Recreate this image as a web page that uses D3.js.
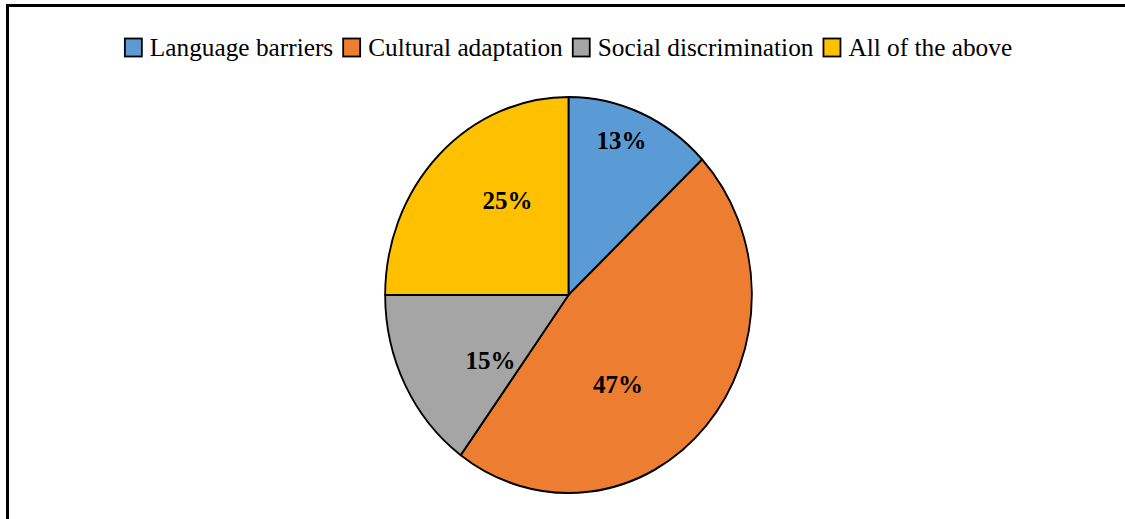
<!DOCTYPE html>
<html>
<head>
<meta charset="utf-8">
<title>Challenges pie</title>
<script src="https://d3js.org/d3.v7.min.js"></script>
<style>
  body { margin: 0; background: #fff; }
  svg { display: block; }
  .legend text { font-family: "Times New Roman", Times, "Liberation Serif", serif; font-size: 25.3px; fill: #000; }
  .lbl { font-family: "Times New Roman", Times, "Liberation Serif", serif; font-size: 25px; font-weight: bold; fill: #000; }
</style>
</head>
<body>
<svg id="chart" width="1125" height="519"></svg>
<script>
// data
var categories = ["Language barriers", "Cultural adaptation", "Social discrimination", "All of the above"];
var values = [13, 47, 15, 25];
var colors = ["#5B9BD5", "#ED7D31", "#A5A5A5", "#FFC000"];

// label placement inside slices (fraction of radius, angle shift in degrees)
var labelPos = [[0.83, -3], [0.53, 18], [0.54, -11], [0.58, 10]];

var svg = d3.select("#chart");

// frame (only top and left edges show in the crop)
svg.append("path")
    .attr("d", "M7.5,525 L7.5,5.5 L1130,5.5")
    .attr("fill", "none")
    .attr("stroke", "#000")
    .attr("stroke-width", 3);

var cx = 568.5, cy = 295, r = 198, sx = 0.926;

var pie = d3.pie().sort(null).value(function(d){ return d; });
var arcs = pie(values);
var arc = d3.arc().innerRadius(0).outerRadius(r);

var g = svg.append("g")
    .attr("transform", "translate(" + cx + "," + cy + ") scale(" + sx + ",1)");

g.selectAll("path.slice")
    .data(arcs)
    .enter()
    .append("path")
      .attr("class", "slice")
      .attr("d", arc)
      .attr("fill", function(d, i){ return colors[i]; })
      .attr("stroke", "#000")
      .attr("stroke-width", 2)
      .attr("stroke-linejoin", "round");

// percent labels
svg.selectAll("text.lbl")
    .data(arcs)
    .enter()
    .append("text")
      .attr("class", "lbl")
      .attr("text-anchor", "middle")
      .attr("x", function(d, i){
          var a = (d.startAngle + d.endAngle) / 2 + labelPos[i][1] * Math.PI / 180;
          return cx + Math.sin(a) * r * labelPos[i][0] * sx;
      })
      .attr("y", function(d, i){
          var a = (d.startAngle + d.endAngle) / 2 + labelPos[i][1] * Math.PI / 180;
          return cy - Math.cos(a) * r * labelPos[i][0] + 8;
      })
      .text(function(d){ return d.data + "%"; });

// legend, centred above the pie
var legend = svg.append("g").attr("class", "legend");
var items = legend.selectAll("g")
    .data(categories)
    .enter()
    .append("g");

items.append("rect")
    .attr("width", 17)
    .attr("height", 18)
    .attr("y", 38.5)
    .attr("fill", function(d, i){ return colors[i]; })
    .attr("stroke", "#000")
    .attr("stroke-width", 1.8);

items.append("text")
    .attr("x", 25)
    .attr("y", 56)
    .text(function(d){ return d; });

var x = 0;
items.each(function(){
    var w = d3.select(this).select("text").node().getComputedTextLength();
    d3.select(this).attr("transform", "translate(" + x + ",0)");
    x += 25 + w + 10;
});
var total = x - 10;
legend.attr("transform", "translate(" + (cx - total / 2) + ",0)");
</script>
</body>
</html>
